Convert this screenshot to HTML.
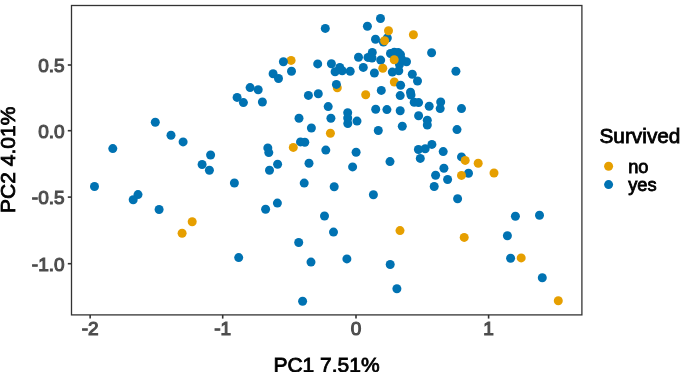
<!DOCTYPE html>
<html><head><meta charset="utf-8"><style>
html,body{margin:0;padding:0;background:#fff;}
body{width:685px;height:372px;overflow:hidden;}
svg{display:block;filter:blur(0.35px);}
text{font-family:"Liberation Sans",sans-serif;}
</style></head><body>
<svg width="685" height="372" viewBox="0 0 685 372">
<rect x="0" y="0" width="685" height="372" fill="#fff"/>
<g>
<circle cx="325.3" cy="28.4" r="4.5" fill="#0072B2"/><circle cx="380.5" cy="18.5" r="4.5" fill="#0072B2"/><circle cx="367.4" cy="26.3" r="4.5" fill="#0072B2"/><circle cx="387.3" cy="38" r="4.5" fill="#0072B2"/><circle cx="383.4" cy="42.1" r="4.5" fill="#0072B2"/><circle cx="388.5" cy="30.7" r="4.5" fill="#E69F00"/><circle cx="413.4" cy="34.7" r="4.5" fill="#E69F00"/><circle cx="375.5" cy="39.3" r="4.5" fill="#0072B2"/><circle cx="384.6" cy="40.7" r="4.5" fill="#E69F00"/><circle cx="291.1" cy="60.4" r="4.5" fill="#E69F00"/><circle cx="283.4" cy="61.7" r="4.5" fill="#0072B2"/><circle cx="291.5" cy="71.2" r="4.5" fill="#0072B2"/><circle cx="273.1" cy="73.8" r="4.5" fill="#0072B2"/><circle cx="278.5" cy="78.5" r="4.5" fill="#0072B2"/><circle cx="317.7" cy="63.9" r="4.5" fill="#0072B2"/><circle cx="331.4" cy="63.7" r="4.5" fill="#0072B2"/><circle cx="339.8" cy="67.4" r="4.5" fill="#0072B2"/><circle cx="335.1" cy="71.7" r="4.5" fill="#0072B2"/><circle cx="342.2" cy="70.7" r="4.5" fill="#0072B2"/><circle cx="350.2" cy="71.2" r="4.5" fill="#0072B2"/><circle cx="358.5" cy="57.2" r="4.5" fill="#0072B2"/><circle cx="372.3" cy="52.4" r="4.5" fill="#0072B2"/><circle cx="368" cy="57.4" r="4.5" fill="#0072B2"/><circle cx="372" cy="58" r="4.5" fill="#0072B2"/><circle cx="380.7" cy="60.1" r="4.5" fill="#0072B2"/><circle cx="363.3" cy="67.4" r="4.5" fill="#0072B2"/><circle cx="382.8" cy="68.2" r="4.5" fill="#E69F00"/><circle cx="374.4" cy="73" r="4.5" fill="#0072B2"/><circle cx="390.5" cy="53.5" r="4.5" fill="#0072B2"/><circle cx="394.3" cy="52.3" r="4.5" fill="#0072B2"/><circle cx="398.1" cy="52.4" r="4.5" fill="#0072B2"/><circle cx="400.5" cy="54.6" r="4.5" fill="#0072B2"/><circle cx="406.5" cy="61.8" r="4.5" fill="#0072B2"/><circle cx="399.5" cy="64.5" r="4.5" fill="#0072B2"/><circle cx="392.3" cy="72.1" r="4.5" fill="#0072B2"/><circle cx="398.8" cy="70.8" r="4.5" fill="#0072B2"/><circle cx="401.5" cy="59" r="4.5" fill="#0072B2"/><circle cx="394.2" cy="59.8" r="4.5" fill="#E69F00"/><circle cx="412.3" cy="74.3" r="4.5" fill="#0072B2"/><circle cx="417.5" cy="81" r="4.5" fill="#0072B2"/><circle cx="394.3" cy="82.0" r="4.5" fill="#E69F00"/><circle cx="400.6" cy="85.3" r="4.5" fill="#0072B2"/><circle cx="431.6" cy="52.8" r="4.5" fill="#0072B2"/><circle cx="455.9" cy="71.2" r="4.5" fill="#0072B2"/><circle cx="337.3" cy="87.8" r="4.5" fill="#E69F00"/><circle cx="336.4" cy="84.4" r="4.5" fill="#0072B2"/><circle cx="308.4" cy="95.4" r="4.5" fill="#0072B2"/><circle cx="318.3" cy="93.8" r="4.5" fill="#0072B2"/><circle cx="365.7" cy="94.7" r="4.5" fill="#E69F00"/><circle cx="381.3" cy="90.4" r="4.5" fill="#0072B2"/><circle cx="400.2" cy="95.6" r="4.5" fill="#0072B2"/><circle cx="410.5" cy="92.3" r="4.5" fill="#0072B2"/><circle cx="411" cy="95" r="4.5" fill="#0072B2"/><circle cx="414.2" cy="102.2" r="4.5" fill="#0072B2"/><circle cx="418.6" cy="102.6" r="4.5" fill="#0072B2"/><circle cx="429.2" cy="106.2" r="4.5" fill="#0072B2"/><circle cx="440.7" cy="102" r="4.5" fill="#0072B2"/><circle cx="440.2" cy="108.6" r="4.5" fill="#0072B2"/><circle cx="461.5" cy="108.6" r="4.5" fill="#0072B2"/><circle cx="328.2" cy="106.6" r="4.5" fill="#0072B2"/><circle cx="299" cy="118.3" r="4.5" fill="#0072B2"/><circle cx="330.9" cy="118.3" r="4.5" fill="#0072B2"/><circle cx="347.7" cy="112.7" r="4.5" fill="#0072B2"/><circle cx="347.7" cy="118" r="4.5" fill="#0072B2"/><circle cx="347.8" cy="123.5" r="4.5" fill="#0072B2"/><circle cx="357" cy="121.1" r="4.5" fill="#0072B2"/><circle cx="375.7" cy="109.3" r="4.5" fill="#0072B2"/><circle cx="386.9" cy="109.6" r="4.5" fill="#0072B2"/><circle cx="400.2" cy="110.8" r="4.5" fill="#0072B2"/><circle cx="418.6" cy="115.8" r="4.5" fill="#0072B2"/><circle cx="427.3" cy="120.3" r="4.5" fill="#0072B2"/><circle cx="427.3" cy="125" r="4.5" fill="#0072B2"/><circle cx="402.3" cy="126.3" r="4.5" fill="#0072B2"/><circle cx="378.3" cy="130.5" r="4.5" fill="#0072B2"/><circle cx="311.4" cy="128" r="4.5" fill="#0072B2"/><circle cx="330.4" cy="133.3" r="4.5" fill="#E69F00"/><circle cx="457" cy="129.6" r="4.5" fill="#0072B2"/><circle cx="250.1" cy="87.6" r="4.5" fill="#0072B2"/><circle cx="258.2" cy="89.8" r="4.5" fill="#0072B2"/><circle cx="237.1" cy="97.4" r="4.5" fill="#0072B2"/><circle cx="243.4" cy="102.6" r="4.5" fill="#0072B2"/><circle cx="262.4" cy="102" r="4.5" fill="#0072B2"/><circle cx="155.3" cy="122.3" r="4.5" fill="#0072B2"/><circle cx="171" cy="135.3" r="4.5" fill="#0072B2"/><circle cx="183.1" cy="141.9" r="4.5" fill="#0072B2"/><circle cx="112.8" cy="148.6" r="4.5" fill="#0072B2"/><circle cx="300.5" cy="141.9" r="4.5" fill="#0072B2"/><circle cx="304.8" cy="142.3" r="4.5" fill="#0072B2"/><circle cx="293.3" cy="147.4" r="4.5" fill="#E69F00"/><circle cx="267.8" cy="147.9" r="4.5" fill="#0072B2"/><circle cx="268.8" cy="152.6" r="4.5" fill="#0072B2"/><circle cx="325.8" cy="150.1" r="4.5" fill="#0072B2"/><circle cx="356.1" cy="152.2" r="4.5" fill="#0072B2"/><circle cx="309" cy="163.2" r="4.5" fill="#0072B2"/><circle cx="352.6" cy="166.9" r="4.5" fill="#0072B2"/><circle cx="277.6" cy="164.2" r="4.5" fill="#0072B2"/><circle cx="269.5" cy="170.3" r="4.5" fill="#0072B2"/><circle cx="210.6" cy="155" r="4.5" fill="#0072B2"/><circle cx="202.1" cy="164.5" r="4.5" fill="#0072B2"/><circle cx="209.4" cy="170.3" r="4.5" fill="#0072B2"/><circle cx="234.4" cy="183" r="4.5" fill="#0072B2"/><circle cx="304.2" cy="183.1" r="4.5" fill="#0072B2"/><circle cx="334.2" cy="186.8" r="4.5" fill="#0072B2"/><circle cx="373.4" cy="194.8" r="4.5" fill="#0072B2"/><circle cx="390" cy="161.6" r="4.5" fill="#0072B2"/><circle cx="418.4" cy="149.5" r="4.5" fill="#0072B2"/><circle cx="425.2" cy="148.7" r="4.5" fill="#0072B2"/><circle cx="431.9" cy="144.4" r="4.5" fill="#0072B2"/><circle cx="420.3" cy="158.4" r="4.5" fill="#0072B2"/><circle cx="443.2" cy="151.6" r="4.5" fill="#0072B2"/><circle cx="461.5" cy="156.9" r="4.5" fill="#0072B2"/><circle cx="465.2" cy="160.4" r="4.5" fill="#E69F00"/><circle cx="478.2" cy="163.3" r="4.5" fill="#E69F00"/><circle cx="443.9" cy="168.3" r="4.5" fill="#0072B2"/><circle cx="435.6" cy="175.3" r="4.5" fill="#0072B2"/><circle cx="447.6" cy="179.5" r="4.5" fill="#0072B2"/><circle cx="434.2" cy="186.5" r="4.5" fill="#0072B2"/><circle cx="468.5" cy="173.3" r="4.5" fill="#0072B2"/><circle cx="461.5" cy="175.4" r="4.5" fill="#E69F00"/><circle cx="494" cy="173" r="4.5" fill="#E69F00"/><circle cx="457.6" cy="198.8" r="4.5" fill="#0072B2"/><circle cx="94.5" cy="186.5" r="4.5" fill="#0072B2"/><circle cx="138" cy="194.6" r="4.5" fill="#0072B2"/><circle cx="133.2" cy="199.7" r="4.5" fill="#0072B2"/><circle cx="159.1" cy="209.5" r="4.5" fill="#0072B2"/><circle cx="192.2" cy="221.7" r="4.5" fill="#E69F00"/><circle cx="182.1" cy="233.2" r="4.5" fill="#E69F00"/><circle cx="277.4" cy="203.1" r="4.5" fill="#0072B2"/><circle cx="265.6" cy="209.2" r="4.5" fill="#0072B2"/><circle cx="324.5" cy="216" r="4.5" fill="#0072B2"/><circle cx="333.5" cy="232.1" r="4.5" fill="#0072B2"/><circle cx="298.7" cy="242.5" r="4.5" fill="#0072B2"/><circle cx="400" cy="230.6" r="4.5" fill="#E69F00"/><circle cx="238.7" cy="257.6" r="4.5" fill="#0072B2"/><circle cx="311" cy="262.1" r="4.5" fill="#0072B2"/><circle cx="346.9" cy="258.9" r="4.5" fill="#0072B2"/><circle cx="302.6" cy="301.3" r="4.5" fill="#0072B2"/><circle cx="390.2" cy="264.5" r="4.5" fill="#0072B2"/><circle cx="396.9" cy="288.7" r="4.5" fill="#0072B2"/><circle cx="515.4" cy="216.2" r="4.5" fill="#0072B2"/><circle cx="539.5" cy="215.2" r="4.5" fill="#0072B2"/><circle cx="507.4" cy="235.7" r="4.5" fill="#0072B2"/><circle cx="464.2" cy="237.4" r="4.5" fill="#E69F00"/><circle cx="510.6" cy="258.3" r="4.5" fill="#0072B2"/><circle cx="521.2" cy="257.9" r="4.5" fill="#E69F00"/><circle cx="542.3" cy="277.7" r="4.5" fill="#0072B2"/><circle cx="558.3" cy="300.8" r="4.5" fill="#E69F00"/>
</g>
<rect x="71.5" y="5.5" width="510.4" height="309.4" fill="none" stroke="#333" stroke-width="1.3"/>
<g stroke="#333" stroke-width="1.6"><line x1="67.8" y1="65.0" x2="71.5" y2="65.0"/><line x1="67.8" y1="130.7" x2="71.5" y2="130.7"/><line x1="67.8" y1="197.1" x2="71.5" y2="197.1"/><line x1="67.8" y1="263.7" x2="71.5" y2="263.7"/><line x1="90.15" y1="314.9" x2="90.15" y2="318.6"/><line x1="222.7" y1="314.9" x2="222.7" y2="318.6"/><line x1="356.0" y1="314.9" x2="356.0" y2="318.6"/><line x1="488.6" y1="314.9" x2="488.6" y2="318.6"/></g>
<g font-size="19" fill="#4D4D4D" stroke="#4D4D4D" stroke-width="1.1"><text x="64.6" y="71.9" text-anchor="end">0.5</text><text x="64.6" y="137.6" text-anchor="end">0.0</text><text x="64.6" y="204.0" text-anchor="end">-0.5</text><text x="64.6" y="270.6" text-anchor="end">-1.0</text><text x="90.15" y="335.2" text-anchor="middle">-2</text><text x="222.7" y="335.2" text-anchor="middle">-1</text><text x="356.0" y="335.2" text-anchor="middle">0</text><text x="488.6" y="335.2" text-anchor="middle">1</text></g>
<text x="326.5" y="371.9" text-anchor="middle" font-size="21" fill="#000" stroke="#000" stroke-width="0.8">PC1 7.51%</text>
<text transform="translate(14.9,159.8) rotate(-90)" x="0" y="0" text-anchor="middle" font-size="21" fill="#000" stroke="#000" stroke-width="0.8">PC2 4.01%</text>
<text x="599.5" y="143.2" font-size="20.8" fill="#000" stroke="#000" stroke-width="0.8">Survived</text>
<circle cx="608.6" cy="166.3" r="4.5" fill="#E69F00"/>
<circle cx="608.6" cy="184.6" r="4.5" fill="#0072B2"/>
<g font-size="18.3" fill="#000" stroke="#000" stroke-width="0.8"><text x="628.2" y="172.7">no</text>
<text x="628.2" y="191.0">yes</text></g>
</svg>
</body></html>
